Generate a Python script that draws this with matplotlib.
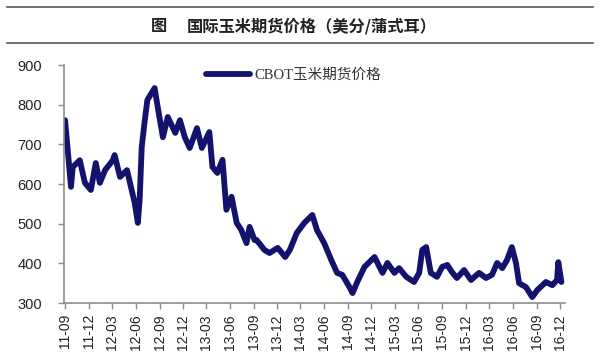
import matplotlib
matplotlib.use("Agg")
import matplotlib.pyplot as plt
import matplotlib.dates as mdates
from matplotlib.lines import Line2D
import numpy as np

# CBOT corn futures, US cents per bushel
dates = [
    "2011-09-01", "2011-09-08", "2011-09-24", "2011-10-01", "2011-10-28",
    "2011-11-17", "2011-12-10", "2011-12-29", "2012-01-14", "2012-02-03",
    "2012-03-04", "2012-03-11", "2012-04-01", "2012-04-28", "2012-05-16",
    "2012-05-28", "2012-06-09", "2012-06-16", "2012-06-24", "2012-07-06",
    "2012-07-16", "2012-08-13", "2012-08-25", "2012-09-14", "2012-10-03",
    "2012-11-01", "2012-11-19", "2012-12-08", "2012-12-27", "2013-01-24",
    "2013-02-12", "2013-03-13", "2013-03-25", "2013-04-13", "2013-05-03",
    "2013-05-18", "2013-06-07", "2013-06-27", "2013-07-15", "2013-08-04",
    "2013-08-16", "2013-09-04", "2013-09-12", "2013-10-12", "2013-11-01",
    "2013-12-03", "2014-01-01", "2014-01-19", "2014-02-15", "2014-03-16",
    "2014-04-16", "2014-05-04", "2014-06-01", "2014-06-28", "2014-07-21",
    "2014-08-10", "2014-09-07", "2014-09-19", "2014-10-07", "2014-11-04",
    "2014-12-13", "2015-01-13", "2015-02-01", "2015-02-28", "2015-03-18",
    "2015-04-15", "2015-05-15", "2015-06-04", "2015-06-16", "2015-07-01",
    "2015-07-19", "2015-08-12", "2015-09-01", "2015-09-21", "2015-10-09",
    "2015-10-28", "2015-11-25", "2015-12-22", "2016-01-22", "2016-02-18",
    "2016-03-12", "2016-04-01", "2016-04-21", "2016-05-09", "2016-05-28",
    "2016-06-13", "2016-06-25", "2016-07-22", "2016-08-15", "2016-09-04",
    "2016-10-07", "2016-11-01", "2016-11-19", "2016-11-24", "2016-12-06",
]
prices = [
    761, 711, 593, 643, 660,
    603, 585, 653, 603, 635,
    660, 673, 618, 635, 585,
    552, 502, 560, 693, 761,
    812, 842, 794, 718, 769,
    729, 761, 718, 691, 741,
    691, 731, 643, 628, 661,
    535, 568, 502, 484, 451,
    492, 459, 459, 434, 426,
    439, 416, 434, 477, 502,
    522, 484, 451, 409, 376,
    371, 340, 325, 353, 391,
    416, 376, 401, 376, 388,
    366, 353, 376, 434, 441,
    376, 366, 391, 396, 378,
    363, 383, 358, 376, 363,
    371, 401, 388, 408, 441,
    401, 350, 340, 315, 333,
    353, 345, 358, 403, 353,
]

tick_dates = [
    "2011-09-01", "2011-12-01", "2012-03-01", "2012-06-01", "2012-09-01",
    "2012-12-01", "2013-03-01", "2013-06-01", "2013-09-01", "2013-12-01",
    "2014-03-01", "2014-06-01", "2014-09-01", "2014-12-01", "2015-03-01",
    "2015-06-01", "2015-09-01", "2015-12-01", "2016-03-01", "2016-06-01",
    "2016-09-01", "2016-12-01",
]
tick_labels = [
    "11-09", "11-12", "12-03", "12-06", "12-09", "12-12", "13-03", "13-06",
    "13-09", "13-12", "14-03", "14-06", "14-09", "14-12", "15-03", "15-06",
    "15-09", "15-12", "16-03", "16-06", "16-09", "16-12",
]
y_ticks = [300, 400, 500, 600, 700, 800, 900]

series_name = "CBOT玉米期货价格"
title_mark = "图"
title_text = "国际玉米期货价格（美分/蒲式耳）"

LINE_COLOR = "#13136e"
AXIS_COLOR = "#8c8c8c"

x = mdates.date2num(np.array(dates, dtype="datetime64[D]"))
xt = mdates.date2num(np.array(tick_dates, dtype="datetime64[D]"))

fig = plt.figure(figsize=(6, 3.6), dpi=100)
ax = fig.add_axes([0.1067, 0.1583, 0.835, 0.661])

ax.plot(x, prices, color=LINE_COLOR, lw=4.2, solid_joinstyle="round",
        solid_capstyle="round", label=series_name)

ax.set_xlim(xt[0] - 4, xt[-1] + 19)
ax.set_ylim(300, 900)
ax.set_xticks(xt)
ax.set_xticklabels(tick_labels, rotation=90, family="Liberation Sans",
                   fontsize=10, color="#222222")
ax.set_yticks(y_ticks)
ax.set_yticklabels([str(v) for v in y_ticks], family="Liberation Sans",
                   fontsize=10.5, color="#222222")
ax.tick_params(axis="y", length=4, width=1, color=AXIS_COLOR, pad=12)
ax.tick_params(axis="x", length=4, width=1, color=AXIS_COLOR, pad=4)

for side in ("top", "right"):
    ax.spines[side].set_visible(False)
for side in ("left", "bottom"):
    ax.spines[side].set_color(AXIS_COLOR)
    ax.spines[side].set_linewidth(1.2)

leg = ax.legend(loc="center left", bbox_to_anchor=(0.283, 0.958),
                frameon=False, borderpad=0, borderaxespad=0,
                handlelength=3.0, handletextpad=0.3,
                prop={"family": ["Liberation Serif", "Noto Sans CJK SC"],
                      "size": 10.5})
for t in leg.get_texts():
    t.set_color("#333333")

# title band with rules above and below
fig.add_artist(Line2D([7 / 600, 593 / 600], [1 - 7 / 360, 1 - 7 / 360],
                      color="#555555", lw=1.2))
fig.add_artist(Line2D([7 / 600, 593 / 600], [1 - 43 / 360, 1 - 43 / 360],
                      color="#555555", lw=1.2))
fig.text(159 / 600, 1 - 26 / 360, title_mark, ha="center", va="center",
         family="Noto Sans CJK SC", fontsize=11.7, fontweight="bold",
         color="#222222")
fig.text(187 / 600, 1 - 26 / 360, title_text, ha="left", va="center",
         family="Noto Sans CJK SC", fontsize=11.7, fontweight="bold",
         color="#222222")

fig.savefig("out.png", dpi=100)
